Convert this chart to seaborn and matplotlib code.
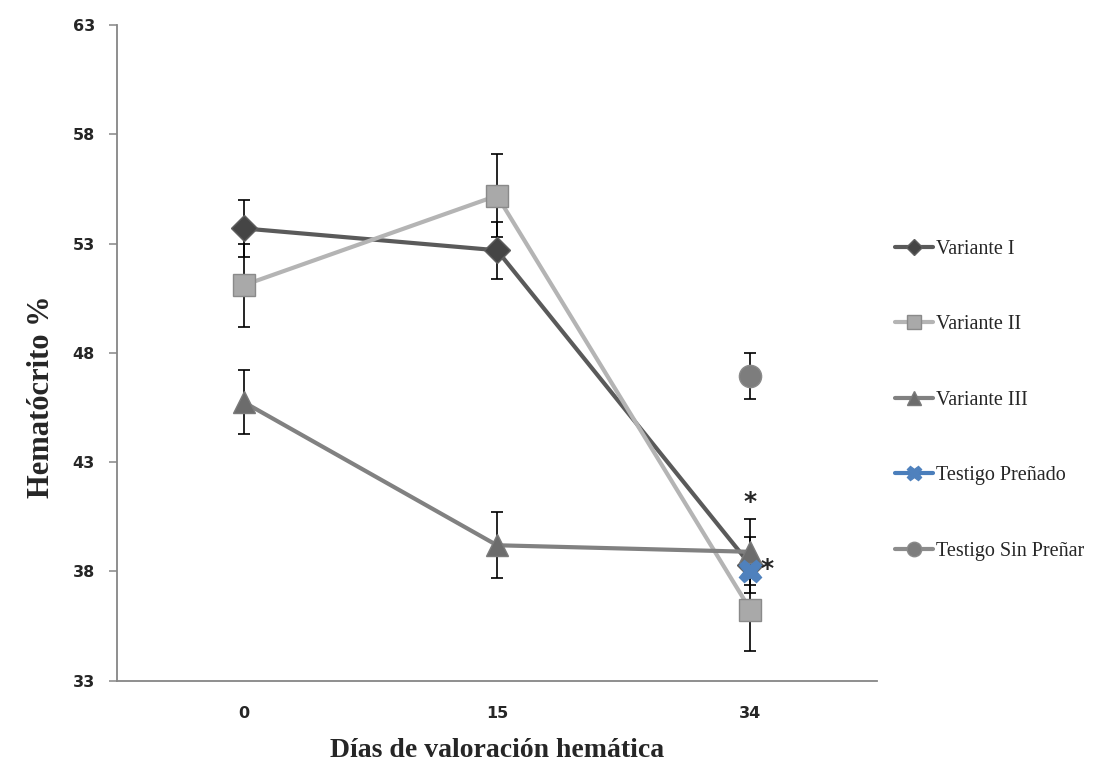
import numpy as np
import pandas as pd
import matplotlib
matplotlib.use("Agg")
import matplotlib.pyplot as plt
import seaborn as sns
from matplotlib.ticker import FixedLocator

# datos
dias = ["0", "15", "34"]
series = ["Variante I", "Variante II", "Variante III", "Testigo Preñado", "Testigo Sin Preñar"]

var1 = [53.7, 52.7, 38.3]
var1_err = [1.3, 1.3, 1.3]
var2 = [51.1, 55.2, 36.25]
var2_err = [1.9, 1.9, 1.9]
var3 = [45.75, 39.2, 38.9]
var3_err = [1.45, 1.5, 1.5]
testigo_pre = [np.nan, np.nan, 38.0]
testigo_pre_err = [np.nan, np.nan, np.nan]
testigo_sin = [np.nan, np.nan, 46.95]
testigo_sin_err = [np.nan, np.nan, 1.05]

asteriscos_y = [41.2, 38.1]

valores = [var1, var2, var3, testigo_pre, testigo_sin]
errores = [var1_err, var2_err, var3_err, testigo_pre_err, testigo_sin_err]

estilos = {
    "Variante I": dict(color="#5a5a5a", marker="D", ms=13, mfc="#454545", mec="#5f5f5f"),
    "Variante II": dict(color="#b4b4b4", marker="s", ms=16, mfc="#a9a9a9", mec="#8a8a8a"),
    "Variante III": dict(color="#818181", marker="^", ms=16, mfc="#6c6c6c", mec="#7a7a7a"),
    "Testigo Preñado": dict(color="#4a7ebb", marker="X", ms=16, mfc="#4f81bd", mec="#4f81bd"),
    "Testigo Sin Preñar": dict(color="#8c8c8c", marker="o", ms=16, mfc="#7d7d7d", mec="#8a8a8a"),
}

filas = []
for nombre, vals, errs in zip(series, valores, errores):
    for i, d in enumerate(dias):
        filas.append({"serie": nombre, "dia": d, "pos": i, "hto": vals[i], "err": errs[i]})
df = pd.DataFrame(filas)

sns.set_style("white")
plt.rcParams["font.family"] = ["DejaVu Sans"]

fig = plt.figure(figsize=(10.99, 7.64), dpi=100)
ax = fig.add_axes([0.1065, 0.109, 0.6915, 0.858])

# barras de error
for nombre in series:
    sub = df[df["serie"] == nombre]
    ax.errorbar(sub["pos"], sub["hto"], yerr=sub["err"], fmt="none", ecolor="black",
                elinewidth=1.2, capsize=4, capthick=1.2, zorder=2)

for nombre in series:
    sub = df[df["serie"] == nombre].dropna(subset=["hto"])
    st = estilos[nombre]
    sns.lineplot(data=sub, x="pos", y="hto", ax=ax, color=st["color"], linewidth=3,
                 marker=st["marker"], markersize=st["ms"], markerfacecolor=st["mfc"],
                 markeredgecolor=st["mec"], markeredgewidth=1, label=nombre, zorder=3,
                 errorbar=None)

# asteriscos de significancia
ax.text(2, asteriscos_y[0], "*", ha="center", va="center", fontsize=18, fontweight="bold")
ax.annotate("*", xy=(2, asteriscos_y[1]), xytext=(12, 0), textcoords="offset points",
            ha="center", va="center", fontsize=18, fontweight="bold")

ax.set_xlim(-0.5, 2.5)
ax.set_ylim(33, 63)
ax.set_yticks(np.arange(33, 64, 5))
ax.set_xticks(range(len(dias)))
ax.set_xticklabels(dias)
ax.xaxis.set_minor_locator(FixedLocator([-0.5, 0.5, 1.5, 2.5]))

for lab in ax.get_xticklabels() + ax.get_yticklabels():
    lab.set_fontweight("bold")
    lab.set_fontsize(11.5)

ax.tick_params(axis="x", which="major", length=0, pad=18)
ax.tick_params(axis="x", which="minor", length=6, width=1.1, color="#868686", direction="out")
ax.tick_params(axis="y", length=6, width=1.1, color="#868686", direction="out", pad=10, left=True)

sns.despine(ax=ax)
for s in ["left", "bottom"]:
    ax.spines[s].set_color("#868686")
    ax.spines[s].set_linewidth(1.3)

ax.set_xlabel("Días de valoración hemática", fontsize=20, fontweight="bold",
              family=["Liberation Serif", "DejaVu Serif"], va="center")
ax.set_ylabel("Hematócrito %", fontsize=22, fontweight="bold",
              family=["Liberation Serif", "DejaVu Serif"], va="center", ha="center")
ax.xaxis.set_label_coords(0.5, -0.107)
ax.yaxis.set_label_coords(-0.099, 0.433)

handles, labels = ax.get_legend_handles_labels()
ax.legend(handles, labels, loc="center left", bbox_to_anchor=(0.814, 0.476),
          bbox_transform=fig.transFigure, frameon=False, borderaxespad=0, borderpad=0,
          labelspacing=2.8, handlelength=1.9, handletextpad=0.15, markerscale=0.65,
          prop={"family": ["Liberation Serif", "DejaVu Serif"], "size": 14.5})

fig.savefig("out.png", dpi=100)
